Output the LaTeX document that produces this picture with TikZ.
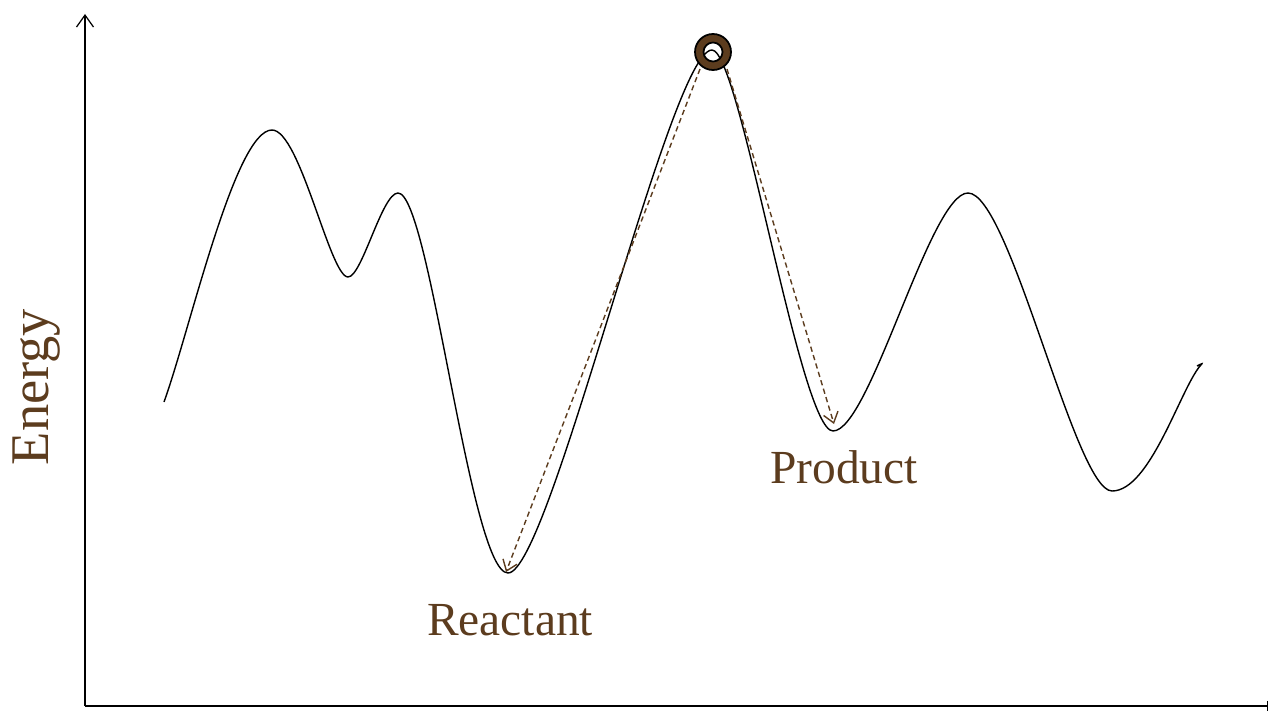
\documentclass[tikz,border=0pt]{standalone}
\usepackage{fontspec}
\setmainfont{Liberation Serif}
\usetikzlibrary{arrows.meta}

\definecolor{bead}{RGB}{92,60,30}

\begin{document}
\begin{tikzpicture}[scale=1]
\useasboundingbox (0,0) rectangle (25.4,14.22);
% axes
\draw [-{Straight Barb[length=2.4mm,width=3.4mm]}, line width=0.7pt] (1.7,0.1) -- (1.7,13.94);
\draw [-|, line width=0.7pt] (1.7,0.1) -- (25.36,0.1);
\node [rotate=90, bead, font=\fontsize{31}{36}\selectfont] (energy) at (0.74,6.48) {Energy};
% energy landscape, flat tangents at every hill and valley
\draw [line width=0.8pt] (3.28,6.18)
  .. controls (3.8,7.62) and (4.7,11.62) .. (5.44,11.62)
  .. controls (6,11.62) and (6.6,8.68) .. (6.96,8.68)
  .. controls (7.24,8.68) and (7.64,10.36) .. (7.96,10.36)
  .. controls (8.6,10.36) and (9.4,2.76) .. (10.16,2.76)
  .. controls (11,2.76) and (13.4,13.22) .. (14.24,13.22)
  .. controls (14.8,13.22) and (16,5.6) .. (16.66,5.6)
  .. controls (17.4,5.6) and (18.6,10.36) .. (19.36,10.36)
  .. controls (20.2,10.36) and (21.5,4.4) .. (22.24,4.4)
  .. controls (23,4.4) and (23.6,6.42) .. (24,6.9)
  .. controls (24.06,6.96) .. (23.94,6.9);
\coordinate (top) at (14.26,13.18);
\coordinate (reactant) at (10.12,2.78);
\coordinate (product) at (16.68,5.74);
% ball on the barrier
\draw [fill=bead, even odd rule, line width=1pt] (top) circle (0.36) (top) circle (0.19);
% paths down
\tikzset{slide/.style={bead, line width=0.8pt, dash pattern=on 3pt off 2pt, -{Straight Barb[length=2mm,width=3mm]}}}
\draw [slide] (14,12.84) -- (reactant);
\draw [slide] (14.54,12.84) -- (product);
\node [bead, font=\fontsize{27}{32}\selectfont] (reactlabel) at (10.2,1.82) {Reactant};
\node [bead, font=\fontsize{27}{32}\selectfont] (prodlabel) at (16.88,4.88) {Product};
\end{tikzpicture}
\end{document}
